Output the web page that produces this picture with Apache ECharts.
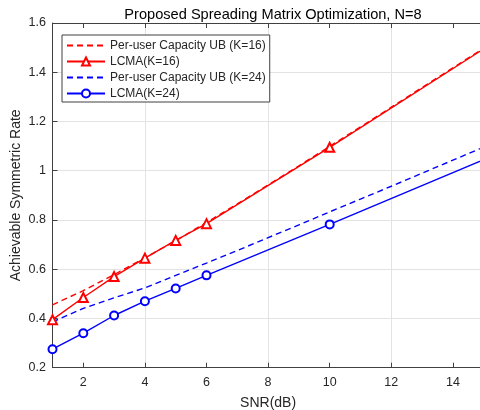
<!DOCTYPE html>
<html>
<head>
<meta charset="utf-8">
<script src="https://cdn.jsdelivr.net/npm/echarts@6/dist/echarts.min.js"></script>
<style>
html,body{margin:0;padding:0;background:#fff;}
#chart{width:480px;height:410px;}
</style>
</head>
<body>
<div id="chart"></div>
<script>
// ---- data ----
const titleText = 'Proposed Spreading Matrix Optimization, N=8';
const xName = 'SNR(dB)';
const yName = 'Achievable Symmetric Rate';
const seriesNames = ['Per-user Capacity UB (K=16)', 'LCMA(K=16)', 'Per-user Capacity UB (K=24)', 'LCMA(K=24)'];

const snrUB = [1, 2, 3, 4, 5, 6, 7, 8, 9, 10, 11, 12, 13, 14, 15];
const ubK16 = [0.455, 0.513, 0.578, 0.646, 0.716, 0.790, 0.865, 0.942, 1.020, 1.099, 1.178, 1.258, 1.338, 1.418, 1.498];
const ubK24 = [0.386, 0.441, 0.484, 0.524, 0.575, 0.625, 0.676, 0.728, 0.780, 0.833, 0.885, 0.937, 0.990, 1.043, 1.096];

const snrLCMA = [1, 2, 3, 4, 5, 6, 10, 15];
const lcmaK16 = [0.395, 0.485, 0.570, 0.645, 0.717, 0.785, 1.095, 1.495];
const lcmaK24 = [0.275, 0.340, 0.412, 0.470, 0.522, 0.575, 0.782, 1.045];

const xTicks = [2, 4, 6, 8, 10, 12, 14];

// ---- build ----
function pairs(xs, ys, lastNoSymbol) {
  return xs.map((x, i) => {
    const item = { value: [x, ys[i]] };
    if (lastNoSymbol && i === xs.length - 1) item.symbol = 'none';
    return item;
  });
}

const axisColor = '#404040';
const textColor = '#262626';
const gridColor = '#e3e3e3';
const font = 'Liberation Sans, Arial, sans-serif';
const noMarker = { color: 'rgba(0,0,0,0)', borderColor: 'rgba(0,0,0,0)', borderWidth: 0 };

const xAxisBase = {
  type: 'value', min: 1, max: 15, interval: 1,
  axisLine: { show: true, onZero: false, lineStyle: { color: axisColor, width: 1 } },
  axisTick: { show: true, inside: true, length: 5, customValues: xTicks, lineStyle: { color: axisColor } },
};

const option = {
  animation: false,
  backgroundColor: '#fff',
  title: {
    text: titleText, left: 268, textAlign: 'center', top: 2.5,
    textStyle: { fontFamily: font, fontSize: 14.6, fontWeight: 'normal', color: '#000' }
  },
  grid: { left: 52.5, right: -3.7, top: 23, bottom: 42.3, containLabel: false, outerBoundsMode: 'none' },
  legend: {
    orient: 'vertical', left: 62, top: 35,
    backgroundColor: '#fff', borderColor: axisColor, borderWidth: 1,
    padding: [4, 4, 2, 4], itemGap: 3, itemWidth: 38, itemHeight: 10,
    textStyle: { fontFamily: font, fontSize: 12, color: textColor, lineHeight: 13 },
    data: [
      { name: seriesNames[0], itemStyle: noMarker },
      { name: seriesNames[1] },
      { name: seriesNames[2], itemStyle: noMarker },
      { name: seriesNames[3] }
    ]
  },
  xAxis: [
    Object.assign({}, xAxisBase, {
      position: 'bottom',
      name: xName, nameLocation: 'middle', nameGap: 28, nameMoveOverlap: false,
      nameTextStyle: { fontFamily: font, fontSize: 14, color: textColor },
      axisLabel: { show: true, customValues: xTicks, margin: 8, fontFamily: font, fontSize: 12.5, color: textColor },
      splitLine: { show: true, lineStyle: { color: ['rgba(0,0,0,0)', gridColor], width: 1 } }
    }),
    Object.assign({}, xAxisBase, {
      position: 'top',
      axisLabel: { show: false },
      splitLine: { show: false }
    })
  ],
  yAxis: {
    type: 'value', min: 0.2, max: 1.6, interval: 0.2,
    name: yName, nameLocation: 'middle', nameGap: 29.5, nameMoveOverlap: false,
    nameTextStyle: { fontFamily: font, fontSize: 14, color: textColor },
    axisLine: { show: true, lineStyle: { color: axisColor, width: 1 } },
    axisTick: { show: true, inside: true, length: 5, lineStyle: { color: axisColor } },
    axisLabel: { margin: 6.5, fontFamily: font, fontSize: 12.5, color: textColor },
    splitLine: { show: true, lineStyle: { color: gridColor, width: 1 } }
  },
  series: [
    {
      name: seriesNames[0], type: 'line', xAxisIndex: 0,
      data: pairs(snrUB, ubK16, false),
      showSymbol: false, symbol: 'none',
      lineStyle: { color: '#ff0000', width: 1.4, type: [6, 4] },
      itemStyle: { color: '#ff0000' }, z: 3
    },
    {
      name: seriesNames[1], type: 'line', xAxisIndex: 0,
      data: pairs(snrLCMA, lcmaK16, true),
      symbol: 'emptyTriangle', symbolSize: 9,
      lineStyle: { color: '#ff0000', width: 1.4 },
      itemStyle: { color: '#ff0000', borderColor: '#ff0000', borderWidth: 1.3 }, z: 4
    },
    {
      name: seriesNames[2], type: 'line', xAxisIndex: 0,
      data: pairs(snrUB, ubK24, false),
      showSymbol: false, symbol: 'none',
      lineStyle: { color: '#0000ff', width: 1.4, type: [6, 4] },
      itemStyle: { color: '#0000ff' }, z: 3
    },
    {
      name: seriesNames[3], type: 'line', xAxisIndex: 0,
      data: pairs(snrLCMA, lcmaK24, true),
      symbol: 'emptyCircle', symbolSize: 8,
      lineStyle: { color: '#0000ff', width: 1.4 },
      itemStyle: { color: '#0000ff', borderColor: '#0000ff', borderWidth: 1.3 }, z: 4
    }
  ]
};

const chart = echarts.init(document.getElementById('chart'), null, { renderer: 'canvas' });
chart.setOption(option);
</script>
</body>
</html>
